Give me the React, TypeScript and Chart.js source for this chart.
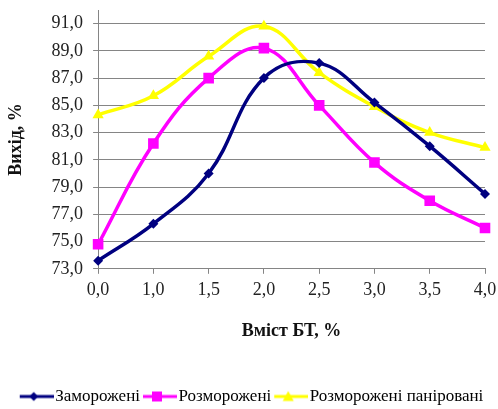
import { useEffect, useRef } from "react";
import { Chart, registerables } from "chart.js";

Chart.register(...registerables);

// Content of BT (%) on the x axis
const categories = ["0,0", "1,0", "1,5", "2,0", "2,5", "3,0", "3,5", "4,0"];
// Yield (%) for each sample group
const frozen = [73.6, 76.3, 80.0, 87.0, 88.1, 85.2, 82.0, 78.5];
const thawed = [74.8, 82.2, 87.0, 89.2, 85.0, 80.8, 78.0, 76.0];
const thawedBreaded = [84.3, 85.7, 88.6, 90.8, 87.4, 84.9, 83.0, 81.9];
// Gridline values on the y axis
const yTicks = [73, 75, 77, 79, 81, 83, 85, 87, 89, 91];

const FONT = "'Liberation Serif', 'Times New Roman', serif";
const GRID = "#858585";

type Marker = "rectRot" | "rect" | "triangle";

// Legend key: a line segment with the series marker in its middle
function legendIcon(color: string, marker: Marker): HTMLCanvasElement {
  const w = 40;
  const h = 14;
  const cx = w / 2;
  const cy = h / 2;
  const c = document.createElement("canvas");
  c.width = w;
  c.height = h;
  const ctx = c.getContext("2d")!;
  ctx.strokeStyle = color;
  ctx.fillStyle = color;
  ctx.lineWidth = 3;
  ctx.beginPath();
  ctx.moveTo(6, cy);
  ctx.lineTo(w, cy);
  ctx.stroke();
  ctx.beginPath();
  if (marker === "rectRot") {
    ctx.moveTo(cx, cy - 4.5);
    ctx.lineTo(cx + 4.5, cy);
    ctx.lineTo(cx, cy + 4.5);
    ctx.lineTo(cx - 4.5, cy);
  } else if (marker === "rect") {
    ctx.rect(cx - 5, cy - 5, 10, 10);
  } else {
    ctx.moveTo(cx, cy - 5.5);
    ctx.lineTo(cx + 5.5, cy + 4.5);
    ctx.lineTo(cx - 5.5, cy + 4.5);
  }
  ctx.closePath();
  ctx.fill();
  return c;
}

export default function App() {
  const canvasRef = useRef<HTMLCanvasElement | null>(null);

  useEffect(() => {
    if (!canvasRef.current) return;
    const series = [
      { label: "Заморожені", data: frozen, color: "#000080", marker: "rectRot" as Marker, radius: 5 },
      { label: "Розморожені", data: thawed, color: "#ff00ff", marker: "rect" as Marker, radius: 7.5 },
      { label: "Розморожені паніровані", data: thawedBreaded, color: "#ffff00", marker: "triangle" as Marker, radius: 6.5 },
    ];
    const icons = series.map((s) => legendIcon(s.color, s.marker));

    const chart = new Chart(canvasRef.current, {
      type: "line",
      data: {
        labels: categories,
        datasets: series.map((s) => ({
          label: s.label,
          data: s.data,
          borderColor: s.color,
          backgroundColor: s.color,
          borderWidth: 3.5,
          tension: 0.4,
          pointStyle: s.marker,
          pointRadius: s.radius,
          pointBorderWidth: 0,
          pointBackgroundColor: s.color,
        })),
      },
      options: {
        animation: false,
        responsive: true,
        maintainAspectRatio: false,
        layout: { padding: { top: 10, right: 0, left: 6, bottom: -6 } },
        plugins: {
          tooltip: { enabled: false },
          legend: {
            position: "bottom",
            labels: {
              usePointStyle: true,
              pointStyleWidth: 26,
              padding: 4,
              color: "#111",
              font: { family: FONT, size: 17 },
              generateLabels: () =>
                series.map((s, i) => ({
                  text: s.label,
                  pointStyle: icons[i],
                  fillStyle: s.color,
                  strokeStyle: s.color,
                  lineWidth: 0,
                  hidden: false,
                  datasetIndex: i,
                })),
            },
          },
        },
        scales: {
          x: {
            type: "category",
            offset: false,
            afterFit: (scale) => {
              scale.paddingRight = 13;
            },
            grid: { drawOnChartArea: false, drawTicks: true, tickLength: 5, color: GRID },
            border: { color: GRID, width: 1 },
            ticks: { color: "#222", font: { family: FONT, size: 18 }, padding: 6, maxRotation: 0 },
            title: {
              display: true,
              text: "Вміст БТ, %",
              color: "#111",
              font: { family: FONT, size: 18, weight: "bold" },
              padding: { top: 13, bottom: 42 },
            },
          },
          y: {
            min: 73,
            max: 92,
            afterBuildTicks: (scale) => {
              scale.ticks = yTicks.map((v) => ({ value: v }));
            },
            afterFit: (scale) => {
              scale.paddingTop = 0;
            },
            grid: { color: GRID, drawTicks: true, tickLength: 5, lineWidth: 1 },
            border: { color: GRID, width: 1 },
            ticks: {
              color: "#222",
              font: { family: FONT, size: 18 },
              padding: 10,
              callback: (v) => Number(v).toFixed(1).replace(".", ","),
            },
            title: {
              display: true,
              text: "Вихід, %",
              color: "#111",
              font: { family: FONT, size: 18, weight: "bold" },
              padding: { top: 0, bottom: 14 },
            },
          },
        },
      },
    });
    return () => chart.destroy();
  }, []);

  return (
    <div style={{ position: "absolute", left: 0, top: 0, width: 498, height: 409, background: "#fff" }}>
      <canvas ref={canvasRef} />
    </div>
  );
}
